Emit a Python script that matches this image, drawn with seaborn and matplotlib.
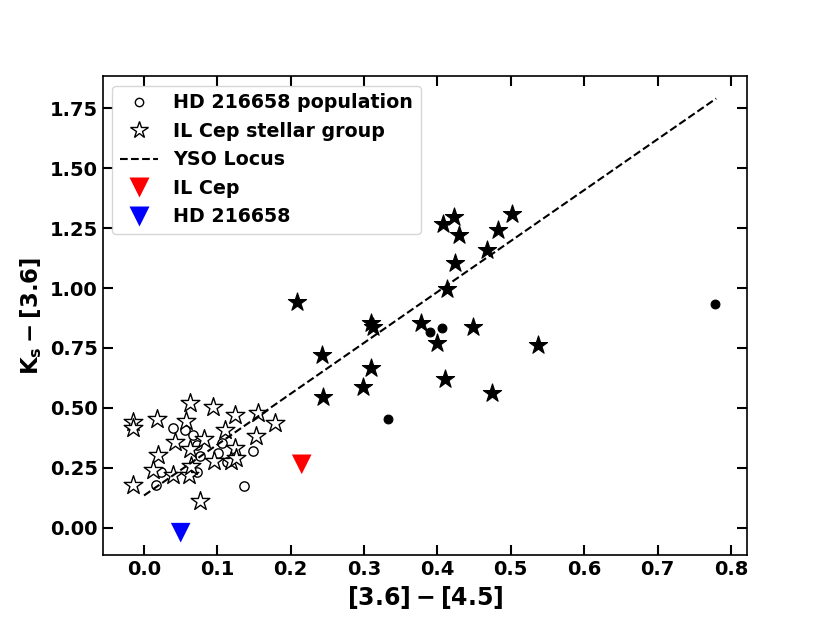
import numpy as np
import pandas as pd
import matplotlib
matplotlib.use("Agg")
import matplotlib.pyplot as plt
import seaborn as sns
from matplotlib.lines import Line2D

# ---- data ----
# IL Cep stellar group (open stars)
ilgrp_x = [-0.015, -0.015, 0.018, 0.063, 0.094, 0.124, 0.156, 0.178, 0.057, 0.110,
           0.042, 0.082, 0.063, 0.153, 0.124, 0.019, 0.012, 0.039, 0.062, 0.064,
           0.096, 0.119, 0.126, -0.015, 0.076]
ilgrp_y = [0.443, 0.415, 0.454, 0.522, 0.503, 0.469, 0.481, 0.436, 0.446, 0.408,
           0.356, 0.370, 0.327, 0.383, 0.331, 0.304, 0.242, 0.221, 0.221, 0.260,
           0.279, 0.279, 0.292, 0.179, 0.113]

# HD 216658 population (open circles)
hdpop_x = [0.039, 0.056, 0.067, 0.072, 0.076, 0.107, 0.148, 0.136, 0.101, 0.113,
           0.072, 0.023, 0.017]
hdpop_y = [0.417, 0.406, 0.388, 0.346, 0.298, 0.352, 0.322, 0.176, 0.311, 0.276,
           0.235, 0.235, 0.179]

# filled stars
fstar_x = [0.407, 0.4225, 0.430, 0.502, 0.483, 0.468, 0.424, 0.4125, 0.209, 0.310,
           0.3125, 0.378, 0.399, 0.448, 0.537, 0.242, 0.310, 0.298, 0.410, 0.474, 0.2435]
fstar_y = [1.265, 1.295, 1.221, 1.308, 1.242, 1.158, 1.105, 0.995, 0.943, 0.853,
           0.836, 0.855, 0.770, 0.839, 0.7625, 0.721, 0.668, 0.589, 0.621, 0.564, 0.547]

# filled circles
fcirc_x = [0.390, 0.406, 0.332, 0.778]
fcirc_y = [0.818, 0.835, 0.453, 0.933]

# single objects
ilcep_x, ilcep_y = [0.215], [0.265]
hd_x, hd_y = [0.050], [-0.020]

# YSO locus
locus_x = [0.0, 0.78]
locus_y = [0.135, 1.79]

# ---- plot ----
sns.set_style("ticks")
plt.rcParams.update({
    "font.family": ["DejaVu Sans"],
    "font.weight": "bold",
    "mathtext.default": "bf",
    "text.color": "black",
    "axes.labelcolor": "black",
    "axes.edgecolor": "black",
    "xtick.color": "black",
    "ytick.color": "black",
})

fig = plt.figure(figsize=(8.3, 6.35), dpi=100)
ax = fig.add_axes([0.124, 0.126, 0.776, 0.754])

sns.scatterplot(x=fstar_x, y=fstar_y, marker="*", s=190, color="black",
                edgecolor="black", linewidth=0.8, ax=ax, legend=False, zorder=3)
sns.scatterplot(x=fcirc_x, y=fcirc_y, marker="o", s=40, color="black",
                edgecolor="black", linewidth=0.8, ax=ax, legend=False, zorder=3)
sns.scatterplot(x=hdpop_x, y=hdpop_y, marker="o", s=45, facecolor="white",
                edgecolor="black", linewidth=1.0, ax=ax, legend=False, zorder=3)
sns.scatterplot(x=ilgrp_x, y=ilgrp_y, marker="*", s=200, facecolor="white",
                edgecolor="black", linewidth=1.0, ax=ax, legend=False, zorder=3)
sns.lineplot(x=locus_x, y=locus_y, color="black", linestyle="--", linewidth=1.5,
             ax=ax, zorder=4)
sns.scatterplot(x=ilcep_x, y=ilcep_y, marker="v", s=200, color="red",
                edgecolor="none", ax=ax, legend=False, zorder=5)
sns.scatterplot(x=hd_x, y=hd_y, marker="v", s=200, color="blue",
                edgecolor="none", ax=ax, legend=False, zorder=5)

ax.set_xlim(-0.056, 0.822)
ax.set_ylim(-0.113, 1.883)
ax.set_xticks(np.arange(0, 0.81, 0.1))
ax.set_yticks(np.arange(0, 1.76, 0.25))
ax.xaxis.set_major_formatter(matplotlib.ticker.FormatStrFormatter("%.1f"))
ax.yaxis.set_major_formatter(matplotlib.ticker.FormatStrFormatter("%.2f"))
ax.tick_params(direction="in", length=7, width=1.5, top=True, right=True,
               labelsize=14, colors="black")
for lab in ax.get_xticklabels() + ax.get_yticklabels():
    lab.set_fontweight("bold")
for sp in ax.spines.values():
    sp.set_linewidth(1.2)
    sp.set_color("black")

ax.set_xlabel(r"$\mathbf{[3.6]-[4.5]}$", fontsize=17, color="black")
ax.set_ylabel(r"$\mathbf{K_s-[3.6]}$", fontsize=16.5, color="black")

handles = [
    Line2D([], [], marker="o", linestyle="none", markersize=6,
           markerfacecolor="white", markeredgecolor="black", markeredgewidth=1.0),
    Line2D([], [], marker="*", linestyle="none", markersize=13,
           markerfacecolor="white", markeredgecolor="black", markeredgewidth=1.0),
    Line2D([], [], color="black", linestyle="--", linewidth=1.5),
    Line2D([], [], marker="v", linestyle="none", markersize=14,
           color="red", markeredgecolor="none"),
    Line2D([], [], marker="v", linestyle="none", markersize=14,
           color="blue", markeredgecolor="none"),
]
labels = ["HD 216658 population", "IL Cep stellar group", "YSO Locus",
          "IL Cep", "HD 216658"]
leg = ax.legend(handles, labels, loc="upper left",
                prop={"weight": "bold", "size": 13.7}, handlelength=2.0)
for t in leg.get_texts():
    t.set_color("black")

fig.savefig("out.png", dpi=100)
